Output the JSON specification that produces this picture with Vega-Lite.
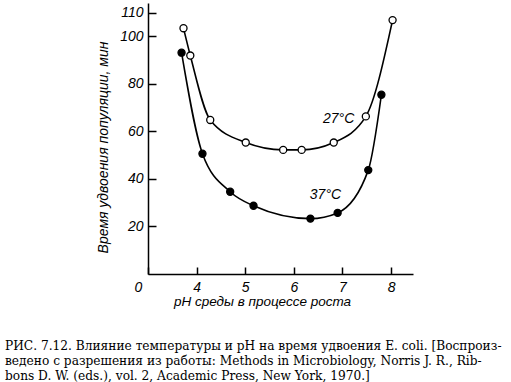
{
  "$schema": "https://vega.github.io/schema/vega-lite/v6.json",
  "width": 265,
  "height": 271,
  "autosize": {"type": "none"},
  "padding": {"left": 148, "top": 3, "right": 98, "bottom": 108},
  "background": "white",
  "config": {"view": {"stroke": null}, "font": "Liberation Sans"},
  "title": {
    "text": [
      "РИС. 7.12. Влияние температуры и pH на время удвоения E. coli. [Воспроиз-",
      "ведено с разрешения из работы: Methods in Microbiology, Norris J. R., Rib-",
      "bons D. W. (eds.), vol. 2, Academic Press, New York, 1970.]"
    ],
    "orient": "bottom",
    "anchor": "start",
    "frame": "group",
    "dx": -143,
    "offset": 32,
    "font": "DejaVu Serif",
    "fontSize": 12.2,
    "fontWeight": "normal",
    "lineHeight": 15,
    "color": "black"
  },
  "datasets": {
    "curves": [
      {"series": "27°C", "pH": 3.73, "value": 103.4},
      {"series": "27°C", "pH": 3.87, "value": 91.9},
      {"series": "27°C", "pH": 4.28, "value": 64.8},
      {"series": "27°C", "pH": 5.01, "value": 55.3},
      {"series": "27°C", "pH": 5.78, "value": 52.2},
      {"series": "27°C", "pH": 6.16, "value": 52.2},
      {"series": "27°C", "pH": 6.82, "value": 55.3},
      {"series": "27°C", "pH": 7.48, "value": 66.3},
      {"series": "27°C", "pH": 8.03, "value": 106.8},
      {"series": "37°C", "pH": 3.69, "value": 93.1},
      {"series": "37°C", "pH": 4.12, "value": 50.6},
      {"series": "37°C", "pH": 4.69, "value": 34.6},
      {"series": "37°C", "pH": 5.17, "value": 28.7},
      {"series": "37°C", "pH": 6.34, "value": 23.3},
      {"series": "37°C", "pH": 6.90, "value": 25.7},
      {"series": "37°C", "pH": 7.53, "value": 43.7},
      {"series": "37°C", "pH": 7.80, "value": 75.4}
    ],
    "labels": [
      {"label": "27°C", "pH": 6.92, "value": 65.3},
      {"label": "37°C", "pH": 6.65, "value": 33.3}
    ]
  },
  "layer": [
    {
      "data": {"name": "curves"},
      "mark": {"type": "line", "interpolate": "monotone", "color": "black", "strokeWidth": 1.6},
      "encoding": {
        "x": {
          "field": "pH", "type": "quantitative",
          "scale": {"domain": [3, 8.45], "nice": false, "zero": false},
          "axis": {
            "values": [3, 4, 5, 6, 7, 8],
            "labelExpr": "datum.value == 3 ? '0' : datum.label",
            "labelOffset": {"condition": {"test": "datum.value == 3", "value": -14}, "value": 0},
            "grid": false,
            "tickSize": -7,
            "tickWidth": 1.5,
            "tickColor": "black",
            "domainColor": "black",
            "domainWidth": 1.5,
            "labelFontStyle": "italic",
            "labelFontSize": 14,
            "labelColor": "black",
            "labelPadding": 13,
            "title": "pH среды в процессе роста",
            "titleFontStyle": "italic",
            "titleFontWeight": "normal",
            "titleFontSize": 13.5,
            "titleColor": "black",
            "titleX": 114,
            "titleY": 27,
            "titleBaseline": "middle"
          }
        },
        "y": {
          "field": "value", "type": "quantitative",
          "scale": {"domain": [0, 114], "nice": false},
          "axis": {
            "values": [20, 40, 60, 80, 100, 110],
            "grid": false,
            "tickSize": -8,
            "tickWidth": 1.5,
            "tickColor": "black",
            "domainColor": "black",
            "domainWidth": 1.5,
            "labelFontStyle": "italic",
            "labelFontSize": 14,
            "labelColor": "black",
            "labelPadding": 13,
            "title": "Время удвоения популяции, мин",
            "titleFontStyle": "italic",
            "titleFontWeight": "normal",
            "titleFontSize": 14,
            "titleColor": "black",
            "titleX": -45,
            "titleY": 144,
            "titleAngle": -90,
            "titleAlign": "center",
            "titleBaseline": "middle"
          }
        },
        "detail": {"field": "series"}
      }
    },
    {
      "data": {"name": "curves"},
      "mark": {"type": "point", "shape": "circle", "size": 50, "filled": true, "stroke": "black", "strokeWidth": 1.3, "opacity": 1},
      "encoding": {
        "x": {"field": "pH", "type": "quantitative"},
        "y": {"field": "value", "type": "quantitative"},
        "fill": {"field": "series", "type": "nominal", "scale": {"domain": ["27°C", "37°C"], "range": ["white", "black"]}, "legend": null}
      }
    },
    {
      "data": {"name": "labels"},
      "mark": {"type": "text", "font": "Liberation Sans", "fontStyle": "italic", "fontSize": 14, "color": "black", "align": "center", "baseline": "middle"},
      "encoding": {
        "x": {"field": "pH", "type": "quantitative"},
        "y": {"field": "value", "type": "quantitative"},
        "text": {"field": "label"}
      }
    }
  ]
}
